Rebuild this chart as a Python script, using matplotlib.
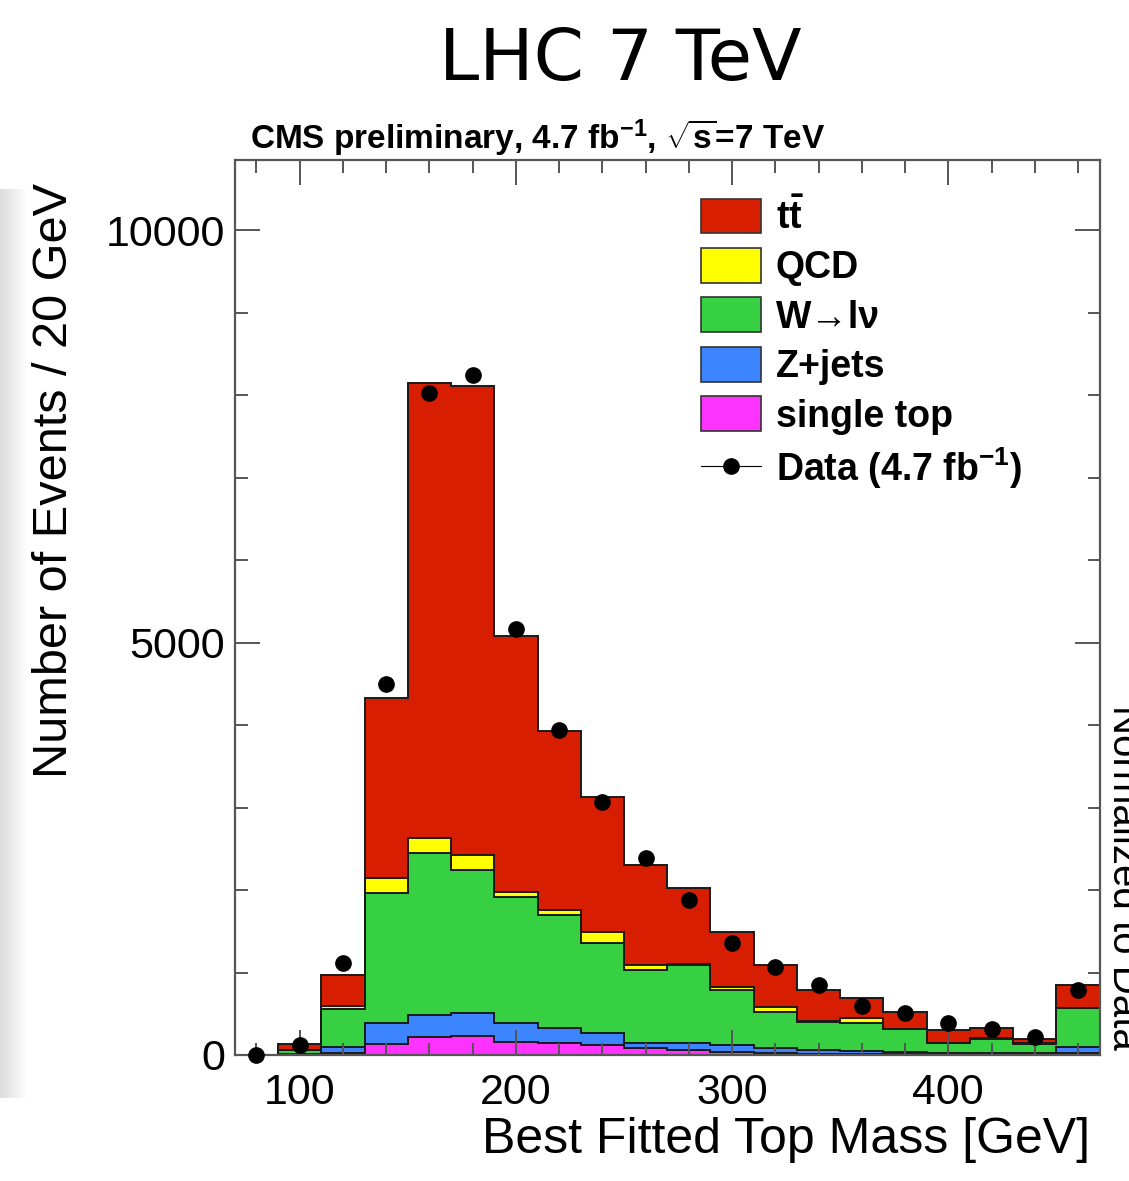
import numpy as np
import matplotlib
matplotlib.use("Agg")
import matplotlib.pyplot as plt
from matplotlib.patches import Patch
from matplotlib.lines import Line2D
from matplotlib.ticker import MultipleLocator, FixedLocator

plt.rcParams["font.family"] = ["Liberation Sans", "DejaVu Sans"]
plt.rcParams["mathtext.fontset"] = "custom"
plt.rcParams["mathtext.rm"] = "Liberation Sans"
plt.rcParams["mathtext.it"] = "Liberation Sans:italic"
plt.rcParams["mathtext.bf"] = "Liberation Sans:bold"

# bins of 20 GeV, 70 - 470 GeV (last bin holds overflow)
bin_edges = [70, 90, 110, 130, 150, 170, 190, 210, 230, 250, 270,
             290, 310, 330, 350, 370, 390, 410, 430, 450, 470]
bin_centers = [80, 100, 120, 140, 160, 180, 200, 220, 240, 260,
               280, 300, 320, 340, 360, 380, 400, 420, 440, 460]

single_top = [0, 5, 20, 133, 218, 230, 158, 145, 121, 85,
              61, 36, 24, 18, 12, 10, 8, 6, 5, 20]
z_jets = [0, 5, 80, 255, 267, 279, 230, 182, 146, 60,
          84, 85, 61, 43, 38, 30, 22, 19, 15, 77]
w_lnu = [0, 50, 460, 1576, 1963, 1733, 1527, 1370, 1091, 885,
         946, 667, 436, 339, 338, 275, 115, 169, 113, 473]
qcd = [0, 0, 35, 181, 182, 182, 61, 61, 133, 61,
       9, 36, 61, 10, 60, 5, 5, 6, 7, 5]
ttbar = [0, 70, 375, 2182, 5520, 5686, 3103, 2169, 1636, 1212,
         924, 667, 509, 378, 242, 201, 153, 127, 56, 273]
data = [0, 120, 1115, 4500, 8030, 8240, 5164, 3939, 3067, 2388,
        1879, 1358, 1067, 848, 590, 515, 382, 315, 218, 788]

layers = [
    (single_top, "single top", "#ff33ff"),
    (z_jets, "Z+jets", "#3d85ff"),
    (w_lnu, "W\u2192l\u03bd", "#38d043"),
    (qcd, "QCD", "#ffff00"),
    (ttbar, r"$\mathbf{t\bar{t}}$", "#d81e00"),
]

fig = plt.figure(figsize=(11.29, 11.81), dpi=100)

# faint grey strip of the slide background on the left
bg = fig.add_axes([0, 0.07, 0.024, 0.77])
bg.imshow(np.linspace(0.86, 1.0, 50)[None, :], cmap="gray", vmin=0, vmax=1,
          aspect="auto")
bg.axis("off")

ax = fig.add_axes([0.208, 0.1067, 0.766, 0.7578])

edges = np.array(bin_edges)
bottom = np.zeros(len(bin_centers))
tops = []
for vals, label, col in layers:
    top = bottom + np.array(vals)
    ax.stairs(top, edges, baseline=bottom, fill=True, color=col, lw=0, zorder=1)
    tops.append(top)
    bottom = top
for top in tops:
    ax.stairs(top, edges, baseline=None, color="#1a1a1a", lw=1.4, zorder=1.5)

ax.plot(bin_centers, data, "o", color="black", ms=11, zorder=5, clip_on=False)

ax.set_xlim(70, 470)
ax.set_ylim(0, 10850)
ax.xaxis.set_major_locator(FixedLocator([100, 200, 300, 400]))
ax.xaxis.set_minor_locator(MultipleLocator(20))
ax.yaxis.set_major_locator(MultipleLocator(5000))
ax.yaxis.set_minor_locator(MultipleLocator(1000))
ax.tick_params(which="both", direction="in", top=True, right=True,
               color="#555555", width=1.4)
ax.tick_params(which="major", length=18)
ax.tick_params(which="minor", length=9)
ax.tick_params(axis="x", labelsize=31, pad=13)
ax.tick_params(axis="y", labelsize=31, pad=7)
for sp in ax.spines.values():
    sp.set_color("#555555")
    sp.set_linewidth(1.6)

handles = [Patch(facecolor=col, edgecolor="#333333", lw=1.2)
           for vals, label, col in layers[::-1]]
handles.append(Line2D([], [], color="black", lw=0.8, marker="o", ms=11))
labels = [label for vals, label, col in layers[::-1]] + [r"Data (4.7 fb$^{\mathbf{-1}}$)"]
ax.legend(handles, labels, loc="upper left", bbox_to_anchor=(0.517, 0.978),
          frameon=False, borderpad=0, handlelength=1.6, handleheight=1.05,
          handletextpad=0.4, labelspacing=0.3,
          prop={"weight": "bold", "size": 27})

fig.text(0.549, 0.949, "LHC 7 TeV", family="DejaVu Sans", fontsize=52,
         ha="center", va="center")
fig.text(250 / 1129, 1 - 138 / 1181,
         r"CMS preliminary, 4.7 fb$^{\mathbf{-1}}$, $\sqrt{\mathbf{s}}$=7 TeV",
         fontsize=24, weight="bold", ha="left", va="center")
fig.text(55 / 1129, 1 - 480 / 1181, "Number of Events / 20 GeV",
         rotation=90, fontsize=35, ha="center", va="center")
fig.text(1090 / 1129, 1 - 1140 / 1181, "Best Fitted Top Mass [GeV]",
         fontsize=36, ha="right", va="center")
fig.text(1105 / 1129, 1 - 1050 / 1181, "Normalized to Data",
         rotation=270, fontsize=29, ha="left", va="bottom")

fig.savefig("out.png", dpi=100)
